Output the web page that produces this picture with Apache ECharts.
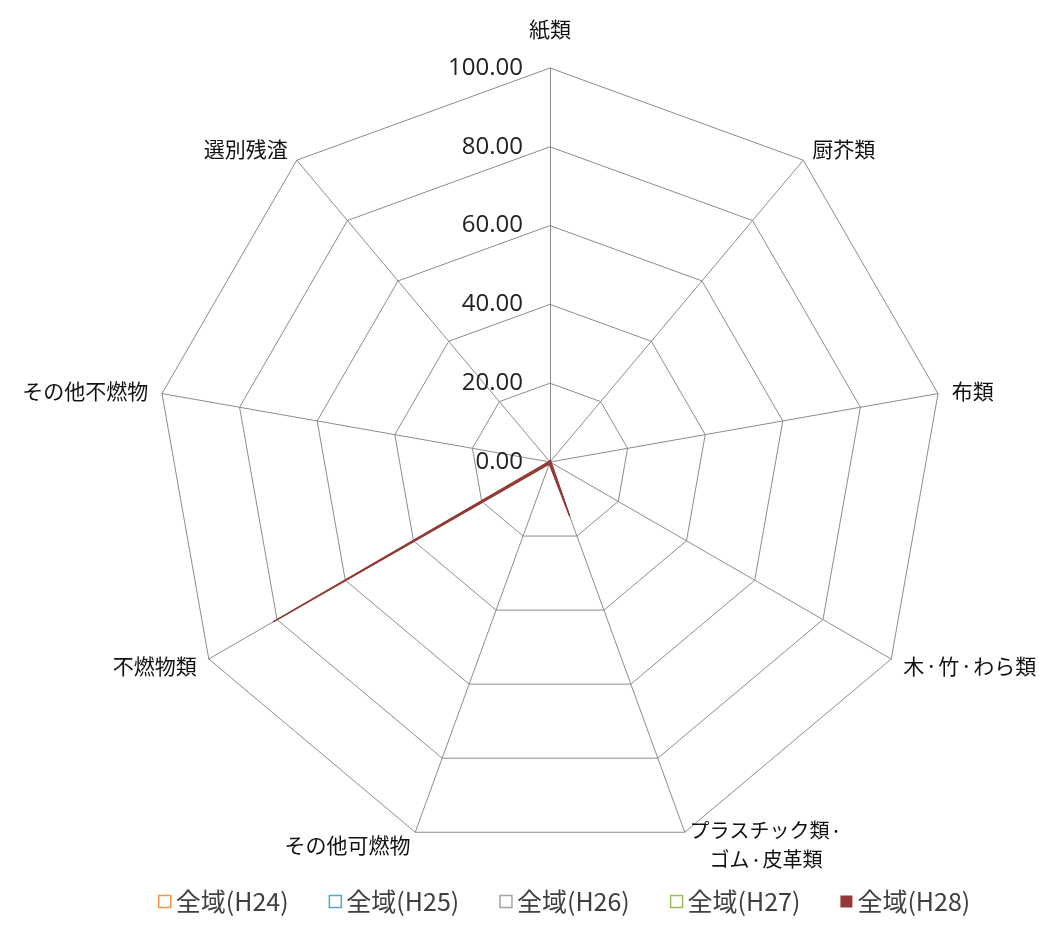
<!DOCTYPE html>
<html><head><meta charset="utf-8">
<script src="https://cdn.jsdelivr.net/npm/echarts@6/dist/echarts.min.js"></script>
<style>html,body{margin:0;padding:0;background:#fff}#c{width:1039px;height:939px}</style>
</head><body><div id="c"></div>
<script>
const categories = ['紙類','厨芥類','布類','木・竹・わら類','プラスチック類・\nゴム・皮革類','その他可燃物','不燃物類','その他不燃物','選別残渣'];
const seriesNames = ['全域(H24)','全域(H25)','全域(H26)','全域(H27)','全域(H28)'];
const h24 = [0.6,0.3,0.2,0.4,13.5,0.6,80.5,0.4,0.3];
const h25 = [0.5,0.3,0.2,0.3,14.0,0.5,81.0,0.3,0.3];
const h26 = [0.5,0.2,0.2,0.3,14.5,0.5,81.5,0.3,0.2];
const h27 = [0.4,0.3,0.1,0.3,15.0,0.4,81.0,0.4,0.2];
const h28 = [0.5,0.2,0.2,0.3,14.5,0.5,81.0,0.3,0.2];
const tickMax = 100, tickStep = 20;
const colors = ['#F79646','#4BACC6','#A5A5A5','#9BBB59','#953735'];
const seriesData = [h24,h25,h26,h27,h28];

// ECharts radar runs counter-clockwise; reorder so categories run clockwise
const order = [0].concat(categories.map((_,i)=>i).slice(1).reverse());
const font = '"Noto Sans CJK JP", sans-serif';

function fmtName(name){
  if (name === categories[0]) return '{top|' + name + '}';
  const lines = name.split('\n');
  if (lines.length > 1) {
    return lines.map(l => '{c|' + l.split('・').join('}{cdot|・}{c|') + '}').join('\n');
  }
  return name.split('・').join('{dot|・}');
}

const chart = echarts.init(document.getElementById('c'));
chart.setOption({
  animation:false,
  legend:{
    bottom:20, left:153, itemGap:40, itemWidth:12, itemHeight:12,
    textStyle:{fontSize:25, color:'#404040', fontFamily:font},
    data: seriesNames.map((n,i)=>({name:n, icon:'rect',
      itemStyle: i<4 ? {color:'#fff', borderColor:colors[i], borderWidth:1.5} : {color:colors[i], borderWidth:0}}))
  },
  radar:{
    center:[550,462], radius:394, startAngle:90, shape:'polygon',
    splitNumber: tickMax/tickStep,
    indicator: order.map((k,j)=>({name:categories[k], min:0, max:tickMax,
      axisLabel: j===0 ? {show:true} : undefined})),
    axisName:{color:'#111', fontSize:21, fontFamily:font, lineHeight:29,
      formatter: fmtName,
      rich:{
        top:{fontSize:21, fontFamily:font, color:'#111', padding:[0,0,20,0]},
        dot:{fontSize:14, fontFamily:font, color:'#111'},
        c:{fontSize:20, fontFamily:font, color:'#111', lineHeight:29, align:'center'},
        cdot:{fontSize:13, fontFamily:font, color:'#111', lineHeight:29, align:'center'}
      }},
    nameGap:14,
    axisLine:{lineStyle:{color:'#8c8c8c', width:1}},
    splitLine:{lineStyle:{color:'#8c8c8c', width:1}},
    splitArea:{show:false},
    axisTick:{show:false},
    axisLabel:{show:false, fontSize:24, color:'#222', fontFamily:'"Open Sans", sans-serif',
      formatter: v => Number(v).toFixed(2), margin:27}
  },
  series:[{
    type:'radar', symbol:'none',
    data: seriesData.map((d,i)=>({name:seriesNames[i], value:order.map(k=>d[k]),
      lineStyle:{color:colors[i], width: i<4?1:1.5, opacity: i<4?0.6:1},
      itemStyle:{color:colors[i]},
      areaStyle: i===4 ? {color:colors[i], opacity:0.8} : undefined}))
  }]
});
</script></body></html>
